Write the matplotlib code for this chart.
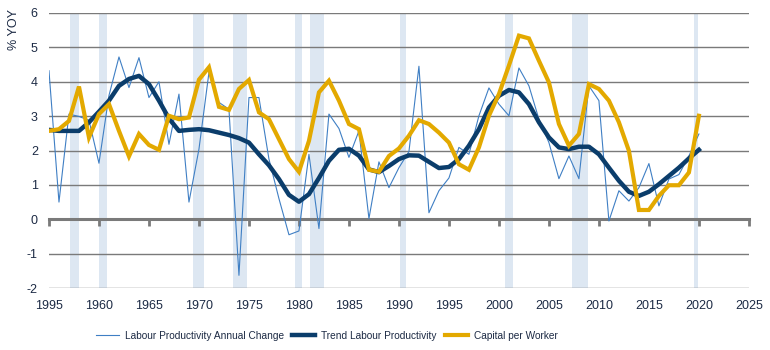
import matplotlib.pyplot as plt
from matplotlib import font_manager

plt.rcParams['font.family'] = ['Liberation Sans', 'DejaVu Sans']
plt.rcParams['axes.unicode_minus'] = False

# Données
years = list(range(1955, 2021))

annual_change = [4.32, 0.5, 3.06, 2.99, 2.88, 1.63, 3.6, 4.72, 3.83, 4.7,
                 3.54, 4.0, 2.18, 3.64, 0.5, 2.04, 4.27, 3.4, 3.2, -1.63,
                 3.54, 3.54, 1.75, 0.6, -0.45, -0.34, 1.89, -0.27, 3.06, 2.64,
                 1.8, 2.57, 0.02, 1.67, 0.92, 1.5, 1.97, 4.45, 0.19, 0.83,
                 1.2, 2.09, 1.89, 3.01, 3.82, 3.35, 3.01, 4.4, 3.88, 2.91,
                 2.23, 1.18, 1.84, 1.18, 3.88, 3.45, -0.05, 0.83, 0.53, 0.92,
                 1.62, 0.39, 1.17, 1.3, 1.84, 2.48]

trend = [2.6, 2.57, 2.57, 2.57, 2.82, 3.13, 3.45, 3.88, 4.08, 4.17,
         3.93, 3.45, 2.93, 2.57, 2.6, 2.62, 2.59, 2.52, 2.45, 2.36,
         2.23, 1.89, 1.57, 1.17, 0.71, 0.51, 0.73, 1.2, 1.7, 2.02,
         2.05, 1.85, 1.45, 1.37, 1.55, 1.75, 1.86, 1.85, 1.67, 1.49,
         1.52, 1.75, 2.14, 2.62, 3.25, 3.59, 3.76, 3.69, 3.35, 2.82,
         2.38, 2.09, 2.04, 2.11, 2.11, 1.89, 1.5, 1.12, 0.8, 0.68,
         0.8, 1.02, 1.26, 1.5, 1.77, 2.02]

capital = [2.57, 2.62, 2.86, 3.86, 2.38, 3.06, 3.35, 2.57, 1.83, 2.48,
           2.16, 2.02, 3.01, 2.91, 2.96, 4.06, 4.42, 3.27, 3.18, 3.79,
           4.05, 3.11, 2.91, 2.33, 1.75, 1.38, 2.28, 3.69, 4.03, 3.45,
           2.77, 2.62, 1.44, 1.38, 1.84, 2.06, 2.43, 2.88, 2.77, 2.52,
           2.23, 1.6, 1.44, 2.09, 3.01, 3.64, 4.47, 5.34, 5.26, 4.61,
           3.98, 2.77, 2.14, 2.48, 3.93, 3.79, 3.45, 2.82, 1.99, 0.27,
           0.27, 0.68, 0.99, 0.99, 1.36, 3.01]

# Périodes de récession (début, fin)
recessions = [(1957.1, 1958.0), (1960.0, 1960.8), (1969.4, 1970.5),
              (1973.4, 1974.8), (1979.6, 1980.3), (1981.1, 1982.5),
              (1990.1, 1990.7), (2000.6, 2001.4), (2007.3, 2008.9),
              (2019.5, 2019.9)]

x_ticks = list(range(1955, 2026, 5))
x_labels = ["1995"] + [str(y) for y in x_ticks[1:]]
y_ticks = list(range(-2, 7))

text_color = '#1c2a44'
grid_color = '#7a7a7a'

# Police étroite pour la légende si elle est disponible
installed = {f.name for f in font_manager.fontManager.ttflist}
if 'Liberation Sans Narrow' in installed:
    legend_prop = font_manager.FontProperties(family='Liberation Sans Narrow', size=8.8)
else:
    legend_prop = font_manager.FontProperties(family='Liberation Sans', size=7.3)
legend_px = legend_prop.get_size_in_points() * 100 / 72

fig = plt.figure(figsize=(7.7, 3.5), dpi=100)
ax = fig.add_axes([0.0636, 0.177, 0.909, 0.786])

for start, end in recessions:
    ax.axvspan(start, end, color='#dde7f2', lw=0, zorder=0)

for y in y_ticks:
    if y != 0:
        ax.axhline(y, color=grid_color, lw=1.0, zorder=1)

ax.plot(years, annual_change, color='#3f7fc4', lw=0.8, zorder=3,
        label="Labour Productivity Annual Change")
ax.plot(years, trend, color='#0b3d6b', lw=3.2, zorder=4,
        solid_joinstyle='round', label="Trend Labour Productivity")
ax.plot(years, capital, color='#e3a900', lw=3.0, zorder=5,
        solid_joinstyle='miter', label="Capital per Worker")

ax.set_xlim(1955, 2025)
ax.set_ylim(-2, 6)

for side in ['top', 'right', 'left']:
    ax.spines[side].set_visible(False)
ax.spines['bottom'].set_position(('data', 0))
ax.spines['bottom'].set_color(grid_color)
ax.spines['bottom'].set_linewidth(2.2)
ax.spines['bottom'].set_zorder(2)

ax.set_xticks(x_ticks)
ax.set_xticklabels(x_labels)
ax.set_yticks(y_ticks)
ax.set_yticklabels([str(y) for y in y_ticks])
ax.tick_params(axis='x', direction='out', length=5, width=2, color=grid_color,
               pad=53, labelsize=9, labelcolor=text_color)
ax.tick_params(axis='y', length=0, pad=8, labelsize=9, labelcolor=text_color)

fig.text(14 / 770, 1 - 30 / 350, "% YOY", rotation=90, ha='center',
         va='center', fontsize=9, color=text_color)

fig.legend(loc='center left', bbox_to_anchor=(0.113, 0.041), ncol=3,
           frameon=False, prop=legend_prop, handlelength=23 / legend_px,
           handletextpad=6 / legend_px, columnspacing=8 / legend_px,
           labelcolor=text_color)

fig.savefig('out.png', dpi=100)
